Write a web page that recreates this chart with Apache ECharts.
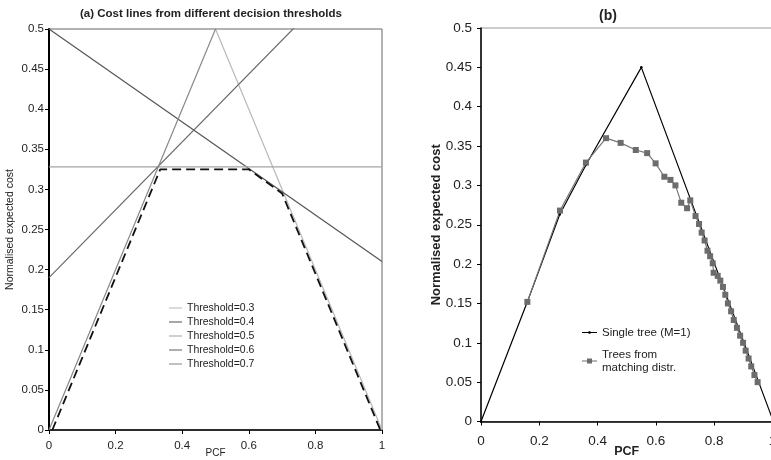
<!DOCTYPE html>
<html>
<head>
<meta charset="utf-8">
<script src="https://cdn.jsdelivr.net/npm/echarts@6/dist/echarts.min.js"></script>
<style>
  html, body { margin: 0; padding: 0; background: #fff; }
  #chart { width: 771px; height: 460px; }
</style>
</head>
<body>
<div id="chart"></div>
<script>
// (a) cost lines: each threshold is a line from (0, FPR) to (1, FNR)
var thresholdNames = ['Threshold=0.3', 'Threshold=0.4', 'Threshold=0.5', 'Threshold=0.6', 'Threshold=0.7'];
var t03 = [[0, 1], [1, 0]];
var t04 = [[0, 0.5], [1, 0.21]];
var t05 = [[0, 0.328], [1, 0.328]];
var t06 = [[0, 0.19], [1, 0.613]];
var t07 = [[0, 0], [1, 1]];
var envelope = [[0.01, 0], [0.334, 0.325], [0.6, 0.325], [0.7, 0.295], [0.995, 0]];

// (b)
var singleTree = [[0, 0], [0.16, 0.153], [0.27, 0.263], [0.36, 0.326], [0.55, 0.45], [1, 0.003]];
var matchingTrees = [
    [0.159, 0.152], [0.271, 0.268], [0.36, 0.329], [0.429, 0.36], [0.479, 0.354],
    [0.531, 0.345], [0.57, 0.341], [0.599, 0.328], [0.629, 0.311], [0.65, 0.307],
    [0.667, 0.3], [0.687, 0.278], [0.707, 0.271], [0.718, 0.281], [0.736, 0.261],
    [0.748, 0.251], [0.757, 0.24], [0.767, 0.23], [0.777, 0.217], [0.786, 0.21],
    [0.795, 0.201], [0.798, 0.189], [0.812, 0.185], [0.821, 0.179], [0.83, 0.171],
    [0.838, 0.161], [0.847, 0.15], [0.858, 0.14], [0.867, 0.129], [0.878, 0.119],
    [0.889, 0.109], [0.899, 0.1], [0.908, 0.09], [0.918, 0.08], [0.927, 0.07],
    [0.938, 0.059], [0.949, 0.05]
];

var font = 'Liberation Sans, Arial, sans-serif';
var fmt = function (v) { return String(+v.toFixed(2)); };

function xAx(grid, size, bold, nameGap, margin) {
    return {
        gridIndex: grid, type: 'value', min: 0, max: 1, interval: 0.2,
        name: 'PCF', nameLocation: 'middle', nameGap: nameGap, nameMoveOverlap: false,
        nameTextStyle: { fontFamily: font, fontSize: bold ? 12.5 : 10, fontWeight: bold ? 'bold' : 'normal', color: '#222' },
        axisLine: { lineStyle: { color: '#000', width: 1.5 } },
        axisTick: { show: true, length: 4, lineStyle: { color: '#000' } },
        axisLabel: { fontFamily: font, fontSize: size, color: '#222', margin: margin, formatter: fmt },
        splitLine: { show: false }
    };
}
function yAx(grid, size, bold, nameGap, margin) {
    return {
        gridIndex: grid, type: 'value', min: 0, max: 0.5, interval: 0.05,
        name: 'Normalised expected cost', nameLocation: 'middle', nameGap: nameGap, nameMoveOverlap: false,
        nameTextStyle: { fontFamily: font, fontSize: bold ? 13 : 10.5, fontWeight: bold ? 'bold' : 'normal', color: '#222' },
        axisLine: { show: true, lineStyle: { color: '#000', width: bold ? 1.5 : 2 } },
        axisTick: { show: true, length: 4, lineStyle: { color: '#000' } },
        axisLabel: { fontFamily: font, fontSize: size, color: '#222', margin: margin, formatter: fmt },
        splitLine: { show: false }
    };
}
function costLine(name, data, color) {
    return {
        name: name, type: 'line', xAxisIndex: 0, yAxisIndex: 0, data: data,
        symbol: 'none', lineStyle: { color: color, width: 1.2 }, itemStyle: { color: color },
        clip: true, silent: true
    };
}

// legend icons: plain line / line with a marker in the middle
var lineIcon = 'path://M0,4.4H15V5.6H0Z';
var dotIcon = 'path://M0,4.4H6.5V3.8H8.5V4.4H15V5.6H8.5V6.2H6.5V5.6H0Z';
var squareIcon = 'path://M0,4.4H5V2.5H10V4.4H15V5.6H10V7.5H5V5.6H0Z';

var myChart = echarts.init(document.getElementById('chart'));
var option = {
    animation: false,
    backgroundColor: '#fff',
    title: [{
        text: '(a) Cost lines from different decision thresholds',
        left: 206, top: 3, textAlign: 'center',
        textStyle: { fontFamily: font, fontSize: 11.5, fontWeight: 'bold', color: '#222' }
    }, {
        text: '(b)',
        left: 603, top: 4, textAlign: 'center',
        textStyle: { fontFamily: font, fontSize: 14, fontWeight: 'bold', color: '#222' }
    }],
    grid: [
        { left: 49, top: 29, width: 333, height: 401, show: true, borderColor: '#666', borderWidth: 1, outerBoundsMode: 'none' },
        { left: 481, top: 28, width: 291.5, height: 393.5, show: true, borderColor: '#999', borderWidth: 1, outerBoundsMode: 'none' }
    ],
    xAxis: [xAx(0, 11.5, false, 18, 10), xAx(1, 13.5, true, 24, 13)],
    yAxis: [yAx(0, 11.5, false, 33, 5), yAx(1, 13.5, true, 38, 9)],
    legend: [{
        data: thresholdNames, orient: 'vertical', left: 164, top: 297,
        icon: lineIcon, itemWidth: 13, itemHeight: 10, itemGap: 2,
        textStyle: { fontFamily: font, fontSize: 10.5, lineHeight: 12, color: '#222' }
    }, {
        data: [
            { name: 'Single tree (M=1)', icon: dotIcon },
            { name: 'Trees from\nmatching distr.', icon: squareIcon }
        ],
        orient: 'vertical', left: 577, top: 321,
        itemWidth: 15, itemHeight: 10, itemGap: 9,
        textStyle: { fontFamily: font, fontSize: 11.5, lineHeight: 13, color: '#222' }
    }],
    series: [
        costLine(thresholdNames[0], t03, '#b8b8b8'),
        costLine(thresholdNames[1], t04, '#555'),
        costLine(thresholdNames[2], t05, '#a4a4a4'),
        costLine(thresholdNames[3], t06, '#666'),
        costLine(thresholdNames[4], t07, '#888'),
        {
            name: 'envelope', type: 'line', xAxisIndex: 0, yAxisIndex: 0, data: envelope,
            symbol: 'none', lineStyle: { color: '#111', width: 1.8, type: [9, 5] }, silent: true
        },
        {
            name: 'Single tree (M=1)', type: 'line', xAxisIndex: 1, yAxisIndex: 1, data: singleTree,
            symbol: 'circle', symbolSize: 2.5, lineStyle: { color: '#000', width: 1.2 }, itemStyle: { color: '#000' }
        },
        {
            name: 'Trees from\nmatching distr.', type: 'line', xAxisIndex: 1, yAxisIndex: 1, data: matchingTrees,
            symbol: 'rect', symbolSize: 6, lineStyle: { color: '#777', width: 1.2 }, itemStyle: { color: '#6c6c6c' }
        }
    ]
};
myChart.setOption(option);
</script>
</body>
</html>
